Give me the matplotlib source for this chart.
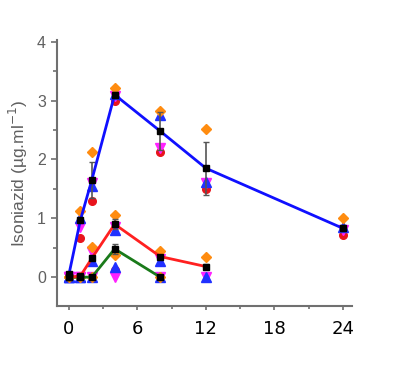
import numpy as np
import matplotlib.pyplot as plt

# sampling times (h)
t_high = [0, 1, 2, 4, 8, 12, 24]
t_mid = [0, 1, 2, 4, 8, 12]
t_low = [0, 1, 2, 4, 8]

# mean concentrations
mean_high = [0.05, 0.97, 1.65, 3.10, 2.48, 1.85, 0.83]
mean_mid = [0.0, 0.02, 0.32, 0.90, 0.35, 0.18]
mean_low = [0.0, 0.0, 0.0, 0.48, 0.0]

# error bar half widths
err_high = [0.0, 0.0, 0.30, 0.05, 0.32, 0.45, 0.05]
err_mid = [0.0, 0.0, 0.0, 0.08, 0.0, 0.05]
err_low = [0.0, 0.0, 0.0, 0.08, 0.0]

# individual subjects (orange diamond, red circle, magenta down, blue up)
orange_high = [0.0, 1.12, 2.13, 3.22, 2.82, 2.52, 1.00]
red_high = [0.0, 0.67, 1.30, 3.00, 2.13, 1.50, 0.72]
magenta_high = [0.0, 0.85, 1.60, 3.08, 2.20, 1.60, 0.80]
blue_high = [0.0, 1.00, 1.55, 3.12, 2.75, 1.62, 0.85]

orange_mid = [0.0, 0.0, 0.52, 1.05, 0.45, 0.35]
magenta_mid = [0.0, 0.0, 0.42, 0.85, 0.30, 0.0]
blue_mid = [0.0, 0.0, 0.28, 0.80, 0.28, 0.0]

orange_low = [0.0, 0.0, 0.0, 0.38, 0.0]
red_low = [0.0, 0.0, 0.0, 0.12, 0.0]
magenta_low = [0.0, 0.0, 0.0, 0.0, 0.0]
blue_low = [0.0, 0.0, 0.0, 0.18, 0.0]

grey = '#707070'

fig = plt.figure(figsize=(4, 3.7), dpi=100)
ax = fig.add_axes([0.1425, 0.173, 0.7375, 0.719])

# individual points
ms = 5.5
for t, o, r, m, b in [(t_low, orange_low, red_low, magenta_low, blue_low),
                      (t_high, orange_high, red_high, magenta_high, blue_high)]:
    ax.plot(t, r, 'o', color='#e8141c', ms=ms, ls='none', zorder=3)
    ax.plot(t, m, 'v', color='#ff22ff', ms=ms + 1.5, ls='none', zorder=3)
    ax.plot(t, b, '^', color='#2030ff', ms=ms + 1.5, ls='none', zorder=3)
    ax.plot(t, o, 'D', color='#ff8c10', ms=ms, ls='none', zorder=3)
ax.plot(t_mid, magenta_mid, 'v', color='#ff22ff', ms=ms + 1.5, ls='none', zorder=3)
ax.plot(t_mid, blue_mid, '^', color='#2030ff', ms=ms + 1.5, ls='none', zorder=3)
ax.plot(t_mid, orange_mid, 'D', color='#ff8c10', ms=ms, ls='none', zorder=3)

# means with error bars
for t, mu, e, c in [(t_low, mean_low, err_low, '#1a7a1a'),
                    (t_mid, mean_mid, err_mid, '#ff2020'),
                    (t_high, mean_high, err_high, '#1010ff')]:
    ax.errorbar(t, mu, yerr=e, fmt='none', ecolor='#555555', elinewidth=1.2,
                capsize=2, zorder=4)
    ax.plot(t, mu, '-', color=c, lw=2, zorder=5)
    ax.plot(t, mu, 's', color='black', ms=4, ls='none', zorder=6)

ax.set_xlim(-1.05, 24.8)
ax.set_ylim(-0.49, 4.03)
ax.set_xticks([0, 6, 12, 18, 24])
ax.set_xticks([3, 9, 15, 21], minor=True)
ax.set_yticks([0, 1, 2, 3, 4])
ax.set_yticks([0.5, 1.5, 2.5, 3.5], minor=True)

for s in ['top', 'right']:
    ax.spines[s].set_visible(False)
for s in ['left', 'bottom']:
    ax.spines[s].set_color(grey)
    ax.spines[s].set_linewidth(1.5)

ax.tick_params(axis='y', colors=grey, labelsize=11.5, width=1.2, length=4,
               labelcolor='#606060', pad=4)
ax.tick_params(axis='y', which='minor', colors=grey, width=1.2, length=3)
ax.tick_params(axis='x', colors=grey, width=1.2, length=3, labelcolor='black',
               labelsize=13, pad=7)
ax.tick_params(axis='x', which='minor', colors=grey, width=1.2, length=2)
for lab in ax.get_yticklabels():
    lab.set_family('Liberation Sans')

ax.set_ylabel('Isoniazid (µg.ml$^{-1}$)', color='#606060', fontsize=12.5,
              family='Liberation Sans', labelpad=5)

fig.savefig('out.png', dpi=100)
